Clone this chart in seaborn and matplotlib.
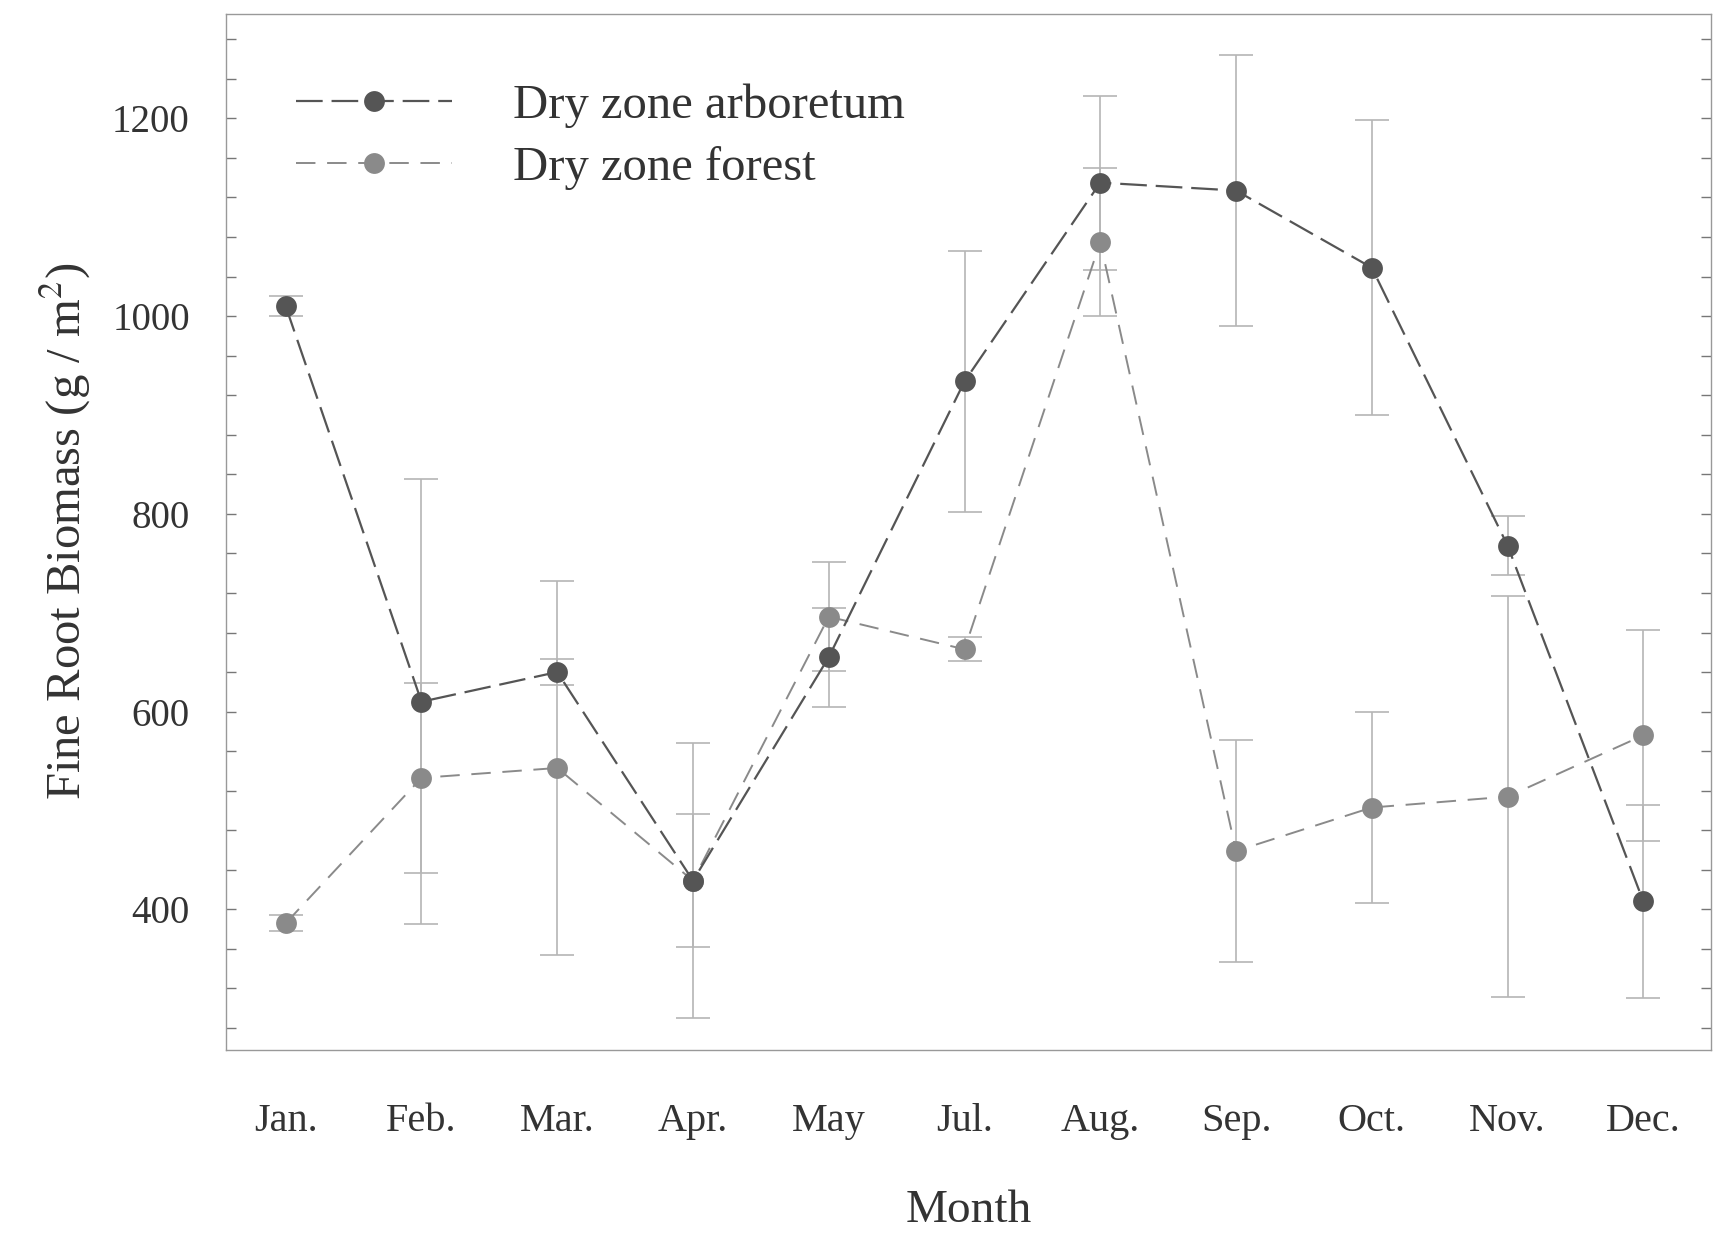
import numpy as np
import pandas as pd
import matplotlib
matplotlib.use("Agg")
import matplotlib.pyplot as plt
from matplotlib.ticker import MultipleLocator
import seaborn as sns

months = ["Jan.", "Feb.", "Mar.", "Apr.", "May", "Jul.", "Aug.", "Sep.", "Oct.", "Nov.", "Dec."]
arboretum = [1010, 610, 640, 429, 655, 934, 1135, 1127, 1049, 768, 408]
arboretum_err = [10, 225, 13, 139, 50, 132, 88, 137, 149, 30, 98]
forest = [386, 533, 543, 429, 696, 663, 1075, 459, 503, 514, 576]
forest_err = [8, 96, 189, 67, 55, 12, 75, 112, 97, 203, 107]

sns.set_style("ticks")
plt.rcParams['font.family'] = ['Liberation Serif', 'DejaVu Serif']
plt.rcParams['mathtext.fontset'] = 'stix'

df = pd.DataFrame({"pos": np.arange(len(months)), "month": months,
                   "arb": arboretum, "arb_err": arboretum_err,
                   "forest": forest, "forest_err": forest_err})

fig, ax = plt.subplots(figsize=(17.25, 12.35), dpi=100)
fig.subplots_adjust(left=0.131, right=0.992, top=0.989, bottom=0.150)

# error bars first, in light gray
ax.errorbar(df["pos"], df["arb"], yerr=df["arb_err"], fmt="none",
            ecolor="#b5b5b5", elinewidth=1.2, capsize=12, capthick=1.2, zorder=1)
ax.errorbar(df["pos"], df["forest"], yerr=df["forest_err"], fmt="none",
            ecolor="#b5b5b5", elinewidth=1.2, capsize=12, capthick=1.2, zorder=1)

sns.lineplot(data=df, x="pos", y="arb", ax=ax, sort=False, color="#555555",
             marker="o", markersize=15, markeredgewidth=0, linewidth=1.6,
             linestyle=(0, (12, 4)), label="Dry zone arboretum", zorder=3)
sns.lineplot(data=df, x="pos", y="forest", ax=ax, sort=False, color="#8a8a8a",
             marker="o", markersize=15, markeredgewidth=0, linewidth=1.4,
             linestyle=(0, (10, 6)), label="Dry zone forest", zorder=2)

ax.set_xlim(-0.44, 10.5)
ax.set_ylim(258, 1306)
ax.set_xticks(df["pos"])
ax.set_xticklabels(months)
ax.yaxis.set_major_locator(MultipleLocator(200))
ax.yaxis.set_minor_locator(MultipleLocator(40))
ax.set_yticks([400, 600, 800, 1000, 1200])

ax.tick_params(axis="x", length=0, pad=38, labelsize=29, colors="#333333")
ax.tick_params(axis="y", which="both", direction="in", right=True, length=7,
               width=1, color="#777777", labelsize=28, labelcolor="#333333", pad=26)

ax.set_xlabel("Month", fontsize=34, color="#333333", labelpad=36)
ax.set_ylabel("Fine Root Biomass (g / m$^2$)", fontsize=35, color="#333333", labelpad=14)

for s in ax.spines.values():
    s.set_color("#999999")
    s.set_linewidth(1)

ax.legend(loc="upper left", bbox_to_anchor=(0.018, 0.975), frameon=False,
          fontsize=35, handlelength=3.2, handletextpad=1.25, labelspacing=0.38,
          labelcolor="#333333")

fig.savefig("out.png", dpi=100)
